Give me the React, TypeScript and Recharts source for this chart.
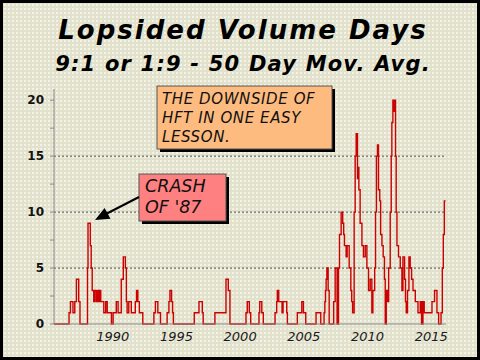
import React from 'react';
import { LineChart, Line, XAxis, YAxis, ReferenceArea, ReferenceLine } from 'recharts';

// step points: year where the 50-day count changes, and the new count
const years = [
  1985.39, 1986.57, 1986.68, 1986.88, 1987.02, 1987.15, 1987.33, 1987.43,
  1988.02, 1988.06, 1988.24, 1988.31, 1988.39, 1988.51, 1988.59, 1988.71, 1988.79, 1988.9, 1988.98, 1989.06,
  1989.3, 1989.45, 1989.57, 1989.9, 1990.03, 1990.28, 1990.42, 1990.67, 1990.83, 1990.99, 1991.07, 1991.13,
  1991.26, 1991.46, 1991.77, 1991.87, 1991.97, 1992.09, 1992.36,
  1993.23, 1993.35, 1993.54, 1993.75,
  1994.27, 1994.41, 1994.49, 1994.62, 1994.7, 1994.76,
  1996.4, 1996.77, 1997.03, 1997.1,
  1998.02, 1998.89, 1999.07, 1999.2,
  2000.46, 2000.56, 2000.72, 2000.83,
  2001.48, 2001.54, 2001.7, 2001.82,
  2002.74, 2002.87, 2002.92, 2003.03, 2003.29, 2003.37, 2003.66, 2003.71,
  2004.49, 2004.84, 2004.97, 2005.15,
  2005.96, 2006.33,
  2006.59, 2006.65, 2006.7, 2006.75, 2006.81, 2006.91, 2006.99,
  2007.34, 2007.46, 2007.61, 2007.72, 2007.8, 2007.93, 2008.05, 2008.13, 2008.19, 2008.32, 2008.4,
  2008.56, 2008.69, 2008.76, 2008.83,
  2008.95, 2009.03, 2009.11, 2009.21, 2009.27, 2009.32, 2009.42, 2009.56, 2009.68, 2009.82, 2009.95,
  2010.08, 2010.21, 2010.34, 2010.42, 2010.56,
  2010.63, 2010.7, 2010.78, 2010.86, 2010.96, 2011.03, 2011.13, 2011.23, 2011.33, 2011.39, 2011.47, 2011.57,
  2011.66, 2011.78, 2011.86, 2011.91, 2011.99, 2012.1, 2012.15, 2012.2, 2012.25, 2012.31, 2012.43, 2012.57,
  2012.7, 2012.78, 2012.91, 2012.98, 2013.04, 2013.14, 2013.25, 2013.35, 2013.46, 2013.57, 2013.75, 2013.96,
  2014.14, 2014.24, 2014.35, 2014.45, 2015.06, 2015.26, 2015.45, 2015.58, 2015.77, 2015.87, 2015.95, 2016.03, 2016.13,
];

const counts = [
  0, 1, 2, 1, 2, 4, 2, 0,
  5, 9, 7, 5, 3, 2, 3, 2, 3, 2, 3, 2,
  1, 2, 1, 0, 1, 2, 1, 4, 6, 5, 2, 1,
  2, 1, 2, 3, 2, 1, 0,
  1, 2, 1, 0,
  1, 2, 3, 2, 1, 0,
  1, 2, 1, 0,
  1, 4, 3, 0,
  1, 2, 1, 0,
  1, 2, 1, 0,
  1, 2, 3, 2, 1, 2, 1, 0,
  1, 2, 1, 0,
  1, 0,
  1, 2, 3, 4, 5, 3, 0,
  2, 5, 0, 5, 8, 10, 9, 8, 7, 6, 7,
  5, 3, 2, 1,
  10, 15, 17, 13, 14, 12, 9, 7, 6, 7, 5,
  3, 4, 1, 3, 5,
  10, 15, 16, 12, 11, 8, 7, 6, 4, 0, 3, 2,
  5, 10, 15, 18, 20, 19, 20, 15, 10, 7, 6, 5,
  3, 6, 4, 2, 1, 3, 6, 5, 4, 3, 2, 1,
  2, 0, 2, 1, 2, 3, 1, 0, 1, 5, 8, 11, 11,
];

const yearTicks = [1990, 1995, 2000, 2005, 2010, 2015];
const countTicks = [0, 2.5, 5, 7.5, 10, 12.5, 15, 17.5, 20];
const gridLevels = [5, 10, 15];

const data = years.map((year, i) => ({ year, count: counts[i] }));

const font = '"DejaVu Sans", Verdana, sans-serif';

export default function App() {
  return (
    <div
      style={{
        position: 'absolute',
        left: 0,
        top: 0,
        width: 480,
        height: 360,
        boxSizing: 'border-box',
        border: '3px solid #000',
        backgroundColor: '#e2e1cb',
        backgroundImage: 'radial-gradient(#f3f3ea 0.7px, transparent 0.9px)',
        backgroundSize: '4px 4px',
        fontFamily: font,
        overflow: 'hidden',
      }}
    >
      <div style={{ position: 'absolute', left: -3, top: -3 }}>
        <LineChart width={480} height={360} data={data} margin={{ top: 89, right: 34, bottom: 10, left: 0 }}>
          <ReferenceArea fill="#ffffff" fillOpacity={1} stroke="#8a8a8a" strokeWidth={1} />
          {gridLevels.map((v) => (
            <ReferenceLine key={v} y={v} stroke="#555" strokeDasharray="2 2" strokeWidth={1} />
          ))}
          <XAxis
            dataKey="year"
            type="number"
            domain={[1985.39, 2016.16]}
            ticks={yearTicks}
            height={26}
            tickLine={false}
            axisLine={{ stroke: '#8a8a8a' }}
            tick={{ fill: '#1a1a1a', fontSize: 13, fontStyle: 'italic', fontFamily: font }}
            allowDataOverflow
          />
          <YAxis
            type="number"
            domain={[0, 21]}
            ticks={countTicks}
            width={54}
            tickSize={4}
            tickMargin={6}
            interval={0}
            tickFormatter={(v: number) => (v % 5 === 0 ? String(v) : '')}
            axisLine={{ stroke: '#8a8a8a' }}
            tickLine={{ stroke: '#8a8a8a' }}
            tick={{ fill: '#111', fontSize: 12, fontWeight: 'bold', fontFamily: font }}
          />
          <Line
            type="stepAfter"
            dataKey="count"
            stroke="#cc0000"
            strokeWidth={1.4}
            dot={false}
            isAnimationActive={false}
          />
        </LineChart>
      </div>

      <svg width={480} height={360} style={{ position: 'absolute', left: -3, top: -3, pointerEvents: 'none' }}>
        <text x={243} y={39} textAnchor="middle" fontFamily={font} fontSize={26} fontWeight="bold" fontStyle="italic" letterSpacing={2} fill="#000">
          Lopsided Volume Days
        </text>
        <text x={243} y={71} textAnchor="middle" fontFamily={font} fontSize={21} fontWeight="bold" fontStyle="italic" letterSpacing={1.2} fill="#000">
          9:1 or 1:9 - 50 Day Mov. Avg.
        </text>

        {/* HFT note */}
        <rect x={160} y={89} width={175} height={63} fill="#000" />
        <rect x={157} y={86} width={175} height={63} fill="#fdbb80" stroke="#555" strokeWidth={1} />
        <text fontFamily={font} fontSize={15} fontStyle="italic" letterSpacing={0.6} fill="#111">
          <tspan x={162} y={104}>THE DOWNSIDE OF</tspan>
          <tspan x={162} y={123}>HFT IN ONE EASY</tspan>
          <tspan x={162} y={142}>LESSON.</tspan>
        </text>

        {/* crash note */}
        <rect x={142} y={177} width={87} height={47} fill="#000" />
        <rect x={139} y={174} width={87} height={47} fill="#ff8080" stroke="#555" strokeWidth={1} />
        <text fontFamily={font} fontSize={17.5} fontStyle="italic" fill="#111">
          <tspan x={145} y={192}>CRASH</tspan>
          <tspan x={145} y={213}>OF '87</tspan>
        </text>
        <line x1={139} y1={197} x2={104} y2={215} stroke="#000" strokeWidth={2} />
        <polygon points="95,220 110.5,218.8 104.6,208" fill="#000" />
      </svg>
    </div>
  );
}
